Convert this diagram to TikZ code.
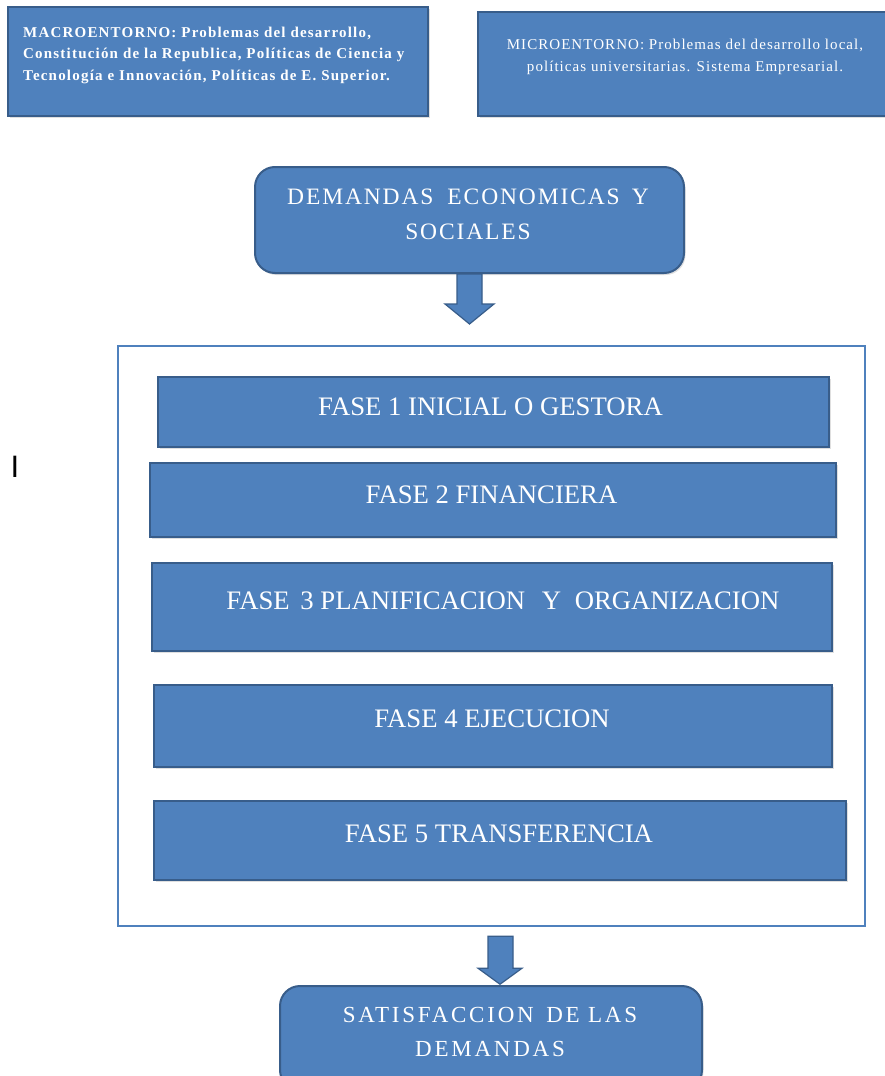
\documentclass[tikz,border=0pt]{standalone}
\usepackage{fontspec}
\setmainfont{Liberation Serif}
\newfontfamily\sansI{Liberation Sans}
\usetikzlibrary{calc,shadows}
\definecolor{boxblue}{RGB}{79,129,189}
\definecolor{boxedge}{RGB}{56,93,138}
\begin{document}
\begin{tikzpicture}[x=1pt,y=-1pt,
  blbox/.style={fill=boxblue, draw=boxedge, line width=2pt, inner sep=0pt,
    drop shadow={opacity=0.25, shadow xshift=1.5pt, shadow yshift=-2pt}},
  rbox/.style={blbox, rounded corners=20pt},
  txt/.style={text=white, inner sep=0pt, align=center},
  fasetxt/.style={txt, font=\fontsize{26.7}{30}\selectfont},
  bigtxt/.style={txt, font=\fontsize{23.5}{35}\selectfont\addfontfeatures{LetterSpace=8}},
  barrow/.style={fill=boxblue, draw=boxedge, line width=1.2pt, line join=miter}]
\clip (0,0) rectangle (885,1076);
\useasboundingbox (0,0) rectangle (885,1076);
\fill[white] (0,0) rectangle (885,1076);

% top boxes
\node[blbox, minimum width=420pt, minimum height=109pt] (macro) at (218,61.5) {};
\node[txt, anchor=west, align=left, font=\fontsize{15}{21.5}\selectfont\bfseries\addfontfeatures{LetterSpace=8}] (macrot) at (23,55)
  {MACROENTORNO: Problemas del desarrollo,\\Constitución de la Republica, Políticas de Ciencia y\\Tecnología e Innovación, Políticas de E. Superior.};
\node[blbox, minimum width=412pt, minimum height=104pt] (micro) at (684,64) {};
\node[txt, font=\fontsize{15}{22}\selectfont\addfontfeatures{LetterSpace=7}] (microt) at (685,57)
  {MICROENTORNO: Problemas del desarrollo local,\\políticas universitarias. Sistema Empresarial.};

% demandas
\node[rbox, minimum width=429pt, minimum height=106pt] (dem) at (469.5,220) {};
\node[bigtxt] (demt) at (468,214) {DEMANDAS\hspace{14pt}ECONOMICAS\hspace{12pt}Y\\SOCIALES};

\filldraw[barrow] ($(dem.south)+(-12.5,0)$) -- ++(0,30) -- ++(-12,0) -- ++(24.5,20)
  -- ++(24.5,-20) -- ++(-12,0) -- ++(0,-30) -- cycle;

% container
\node[draw=boxblue, line width=2.5pt, fill=white, minimum width=747pt, minimum height=580pt, inner sep=0pt] (outer) at (491.5,636) {};

\node[blbox, minimum width=671pt, minimum height=70pt] (f1) at (493.5,412) {};
\node[fasetxt] (f1t) at (490.5,407) {FASE 1 INICIAL O GESTORA};
\node[blbox, minimum width=686pt, minimum height=74pt] (f2) at (493,500) {};
\node[fasetxt] (f2t) at (491.5,495) {FASE 2 FINANCIERA};
\node[blbox, minimum width=680pt, minimum height=88pt] (f3) at (492,607) {};
\node[fasetxt] (f3t) at (503,601) {FASE\hspace{4pt} 3 PLANIFICACION\hspace{10pt} Y\hspace{7pt} ORGANIZACION};
\node[blbox, minimum width=678pt, minimum height=82pt] (f4) at (493,726) {};
\node[fasetxt] (f4t) at (492,719) {FASE 4 EJECUCION};
\node[blbox, minimum width=692pt, minimum height=79pt] (f5) at (500,840.5) {};
\node[fasetxt] (f5t) at (499,834) {FASE 5 TRANSFERENCIA};

% arrow to satisfaccion
\node[rbox, minimum width=422pt, minimum height=104pt] (sat) at (491,1038) {};
\node[txt, font=\fontsize{23}{34}\selectfont\addfontfeatures{LetterSpace=12}] (satt) at (490,1032) {SATISFACCION\hspace{4pt} DE LAS\\DEMANDAS};
\filldraw[barrow] ($(outer.south)+(-3.5,9)$) -- ++(0,32) -- ++(-10,0) -- ++(22,16)
  -- ++(22,-16) -- ++(-9,0) -- ++(0,-32) -- cycle;

% stray letter
\node[inner sep=0pt, font=\sansI\fontsize{31}{31}\selectfont] (stray) at (15,467) {I};
\end{tikzpicture}
\end{document}
